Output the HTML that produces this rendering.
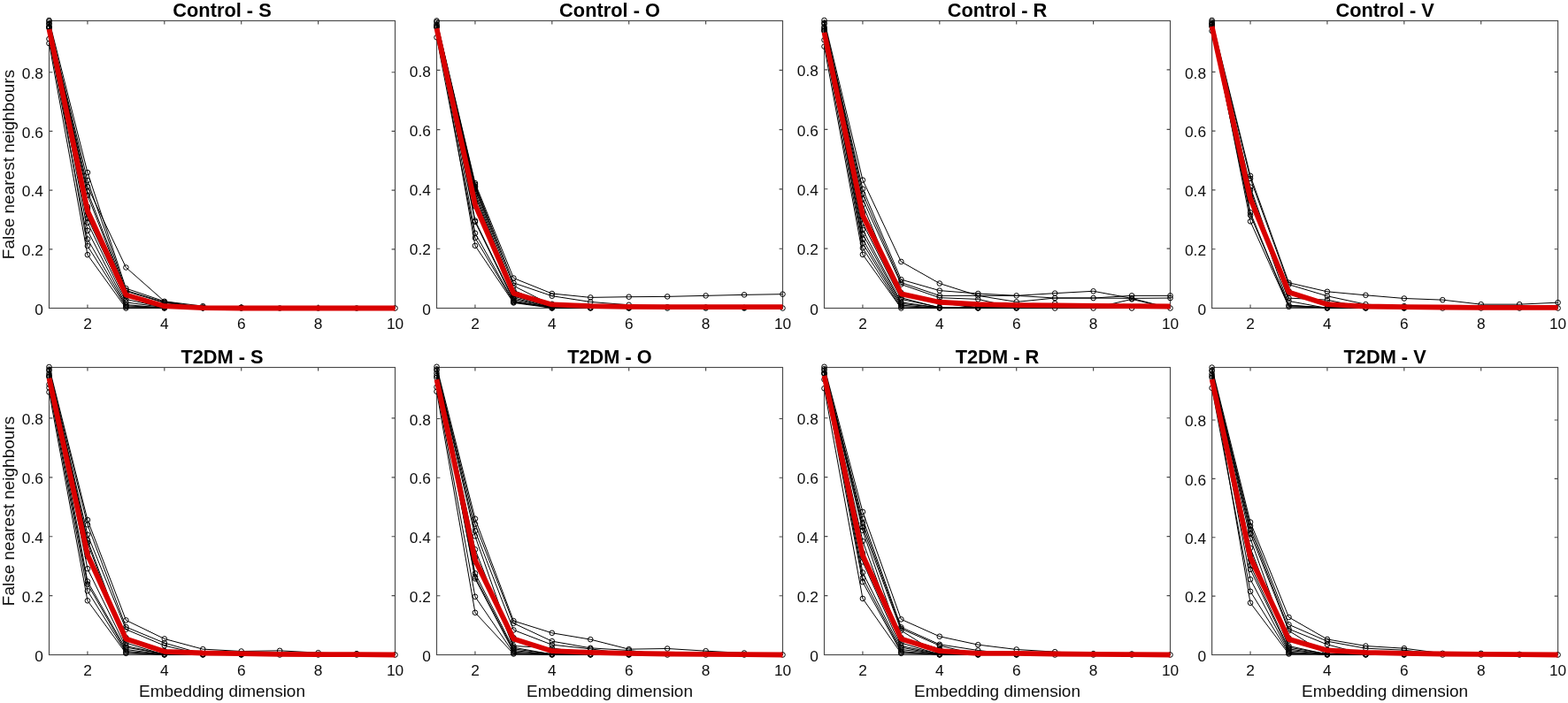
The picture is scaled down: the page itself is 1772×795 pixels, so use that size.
<!DOCTYPE html>
<html><head><meta charset="utf-8"><title>False nearest neighbours</title>
<style>
html,body{margin:0;padding:0;background:#fff;}
body{width:1772px;height:795px;overflow:hidden;}
svg{display:block;}
text{font-family:"Liberation Sans",Arial,Helvetica,sans-serif;fill:#0d0d0d;}
.t{font-size:17.3px;}
.l{font-size:19.0px;}
.h{font-size:21.8px;font-weight:bold;fill:#000;}
</style></head><body>
<svg width="1772" height="795" viewBox="0 0 1772 795">
<rect x="0" y="0" width="1772" height="795" fill="#fff"/>
<g><rect x="55.5" y="23.5" width="391" height="325" fill="none" stroke="#4a4a4a" stroke-width="1.15"/>
<path d="M98.94 348.5V344.6M98.94 23.5V27.4M185.83 348.5V344.6M185.83 23.5V27.4M272.72 348.5V344.6M272.72 23.5V27.4M359.61 348.5V344.6M359.61 23.5V27.4M55.5 281.8H59.4M446.5 281.8H442.6M55.5 215.1H59.4M446.5 215.1H442.6M55.5 148.4H59.4M446.5 148.4H442.6M55.5 81.7H59.4M446.5 81.7H442.6" fill="none" stroke="#4a4a4a" stroke-width="1.15"/>
<text class="t" x="98.94" y="371.8" text-anchor="middle">2</text>
<text class="t" x="185.83" y="371.8" text-anchor="middle">4</text>
<text class="t" x="272.72" y="371.8" text-anchor="middle">6</text>
<text class="t" x="359.61" y="371.8" text-anchor="middle">8</text>
<text class="t" x="446.5" y="371.8" text-anchor="middle">10</text>
<text class="t" x="48.9" y="355.7" text-anchor="end">0</text>
<text class="t" x="48.9" y="289" text-anchor="end">0.2</text>
<text class="t" x="48.9" y="222.3" text-anchor="end">0.4</text>
<text class="t" x="48.9" y="155.6" text-anchor="end">0.6</text>
<text class="t" x="48.9" y="88.9" text-anchor="end">0.8</text>
<text class="h" x="251" y="18.75" text-anchor="middle">Control - S</text>
<g fill="none" stroke="#000" stroke-width="1.0" stroke-linejoin="round"><polyline points="55.5,23 98.94,195.09 142.39,326.16 185.83,340.83 229.28,346.17 272.72,348.5 316.17,348.5 359.61,348.5 403.06,348.5 446.5,348.5"/><polyline points="55.5,26.67 98.94,204.09 142.39,328.49 185.83,341.83 229.28,347.57 272.72,348.03 316.17,348.5 359.61,348.5 403.06,348.5 446.5,348.5"/><polyline points="55.5,26.67 98.94,211.1 142.39,302.48 185.83,340.83 229.28,348.27 272.72,347.57 316.17,348.5 359.61,348.5 403.06,348.5 446.5,348.5"/><polyline points="55.5,26.67 98.94,216.43 142.39,329.16 185.83,342.5 229.28,347.8 272.72,348.27 316.17,348.5 359.61,348.5 403.06,348.5 446.5,348.5"/><polyline points="55.5,26.67 98.94,220.77 142.39,331.82 185.83,345.17 229.28,348.5 272.72,347.8 316.17,348.5 359.61,348.5 403.06,348.5 446.5,348.5"/><polyline points="55.5,24.34 98.94,233.78 142.39,335.16 185.83,346.83 229.28,348.03 272.72,348.5 316.17,348.5 359.61,348.5 403.06,348.5 446.5,348.5"/><polyline points="55.5,30.01 98.94,246.45 142.39,338.5 185.83,347.83 229.28,347.57 272.72,348.03 316.17,348.5 359.61,348.5 403.06,348.5 446.5,348.5"/><polyline points="55.5,31.68 98.94,251.79 142.39,341.83 185.83,347.8 229.28,348.27 272.72,347.57 316.17,348.5 359.61,348.5 403.06,348.5 446.5,348.5"/><polyline points="55.5,31.68 98.94,260.79 142.39,344.5 185.83,348.5 229.28,347.8 272.72,348.27 316.17,348.5 359.61,348.5 403.06,348.5 446.5,348.5"/><polyline points="55.5,44.01 98.94,270.46 142.39,345.83 185.83,348.03 229.28,348.5 272.72,347.8 316.17,348.5 359.61,348.5 403.06,348.5 446.5,348.5"/><polyline points="55.5,31.68 98.94,278.13 142.39,347.17 185.83,347.57 229.28,348.03 272.72,348.5 316.17,348.5 359.61,348.5 403.06,348.5 446.5,348.5"/><polyline points="55.5,49.02 98.94,288.14 142.39,348.5 185.83,348.27 229.28,347.57 272.72,348.03 316.17,348.5 359.61,348.5 403.06,348.5 446.5,348.5"/><polyline points="55.5,27.01 98.94,235.78 142.39,332.16 185.83,345.5 229.28,348.27 272.72,347.57 316.17,348.5 359.61,348.5 403.06,348.5 446.5,348.5"/><polyline points="55.5,30.34 98.94,240.45 142.39,334.83 185.83,346.17 229.28,347.8 272.72,348.27 316.17,348.5 359.61,348.5 403.06,348.5 446.5,348.5"/><polyline points="55.5,31.01 98.94,237.78 142.39,333.49 185.83,346.83 229.28,348.5 272.72,347.8 316.17,348.5 359.61,348.5 403.06,348.5 446.5,348.5"/><circle cx="55.5" cy="23" r="2.8"/><circle cx="98.94" cy="195.09" r="2.8"/><circle cx="142.39" cy="326.16" r="2.8"/><circle cx="185.83" cy="340.83" r="2.8"/><circle cx="229.28" cy="346.17" r="2.8"/><circle cx="272.72" cy="348.5" r="2.8"/><circle cx="316.17" cy="348.5" r="2.8"/><circle cx="359.61" cy="348.5" r="2.8"/><circle cx="403.06" cy="348.5" r="2.8"/><circle cx="446.5" cy="348.5" r="2.8"/><circle cx="55.5" cy="26.67" r="2.8"/><circle cx="98.94" cy="204.09" r="2.8"/><circle cx="142.39" cy="328.49" r="2.8"/><circle cx="185.83" cy="341.83" r="2.8"/><circle cx="229.28" cy="347.57" r="2.8"/><circle cx="272.72" cy="348.03" r="2.8"/><circle cx="98.94" cy="211.1" r="2.8"/><circle cx="142.39" cy="302.48" r="2.8"/><circle cx="229.28" cy="348.27" r="2.8"/><circle cx="272.72" cy="347.57" r="2.8"/><circle cx="98.94" cy="216.43" r="2.8"/><circle cx="142.39" cy="329.16" r="2.8"/><circle cx="185.83" cy="342.5" r="2.8"/><circle cx="229.28" cy="347.8" r="2.8"/><circle cx="272.72" cy="348.27" r="2.8"/><circle cx="98.94" cy="220.77" r="2.8"/><circle cx="142.39" cy="331.82" r="2.8"/><circle cx="185.83" cy="345.17" r="2.8"/><circle cx="229.28" cy="348.5" r="2.8"/><circle cx="272.72" cy="347.8" r="2.8"/><circle cx="55.5" cy="24.34" r="2.8"/><circle cx="98.94" cy="233.78" r="2.8"/><circle cx="142.39" cy="335.16" r="2.8"/><circle cx="185.83" cy="346.83" r="2.8"/><circle cx="229.28" cy="348.03" r="2.8"/><circle cx="55.5" cy="30.01" r="2.8"/><circle cx="98.94" cy="246.45" r="2.8"/><circle cx="142.39" cy="338.5" r="2.8"/><circle cx="185.83" cy="347.83" r="2.8"/><circle cx="55.5" cy="31.68" r="2.8"/><circle cx="98.94" cy="251.79" r="2.8"/><circle cx="142.39" cy="341.83" r="2.8"/><circle cx="98.94" cy="260.79" r="2.8"/><circle cx="142.39" cy="344.5" r="2.8"/><circle cx="185.83" cy="348.5" r="2.8"/><circle cx="55.5" cy="44.01" r="2.8"/><circle cx="98.94" cy="270.46" r="2.8"/><circle cx="142.39" cy="345.83" r="2.8"/><circle cx="185.83" cy="348.03" r="2.8"/><circle cx="98.94" cy="278.13" r="2.8"/><circle cx="142.39" cy="347.17" r="2.8"/><circle cx="185.83" cy="347.57" r="2.8"/><circle cx="55.5" cy="49.02" r="2.8"/><circle cx="98.94" cy="288.14" r="2.8"/><circle cx="142.39" cy="348.5" r="2.8"/><circle cx="185.83" cy="348.27" r="2.8"/><circle cx="55.5" cy="27.01" r="2.8"/><circle cx="98.94" cy="235.78" r="2.8"/><circle cx="142.39" cy="332.16" r="2.8"/><circle cx="185.83" cy="345.5" r="2.8"/><circle cx="55.5" cy="30.34" r="2.8"/><circle cx="98.94" cy="240.45" r="2.8"/><circle cx="142.39" cy="334.83" r="2.8"/><circle cx="185.83" cy="346.17" r="2.8"/><circle cx="55.5" cy="31.01" r="2.8"/><circle cx="98.94" cy="237.78" r="2.8"/><circle cx="142.39" cy="333.49" r="2.8"/></g>
<polyline points="55.5,33.01 98.94,238.44 142.39,333.49 185.83,346.17 229.28,348.17 272.72,348.5 316.17,348.5 359.61,348.5 403.06,348.5 446.5,348.5" fill="none" stroke="#d90000" stroke-width="5.8" stroke-linejoin="round" stroke-linecap="butt"/>
<text class="l" x="0" y="0" text-anchor="middle" transform="translate(15.9 186) rotate(-90)">False nearest neighbours</text></g>
<g><rect x="493.5" y="23.5" width="391" height="325" fill="none" stroke="#4a4a4a" stroke-width="1.15"/>
<path d="M536.94 348.5V344.6M536.94 23.5V27.4M623.83 348.5V344.6M623.83 23.5V27.4M710.72 348.5V344.6M710.72 23.5V27.4M797.61 348.5V344.6M797.61 23.5V27.4M493.5 281.2H497.4M884.5 281.2H880.6M493.5 213.9H497.4M884.5 213.9H880.6M493.5 146.6H497.4M884.5 146.6H880.6M493.5 79.3H497.4M884.5 79.3H880.6" fill="none" stroke="#4a4a4a" stroke-width="1.15"/>
<text class="t" x="536.94" y="371.8" text-anchor="middle">2</text>
<text class="t" x="623.83" y="371.8" text-anchor="middle">4</text>
<text class="t" x="710.72" y="371.8" text-anchor="middle">6</text>
<text class="t" x="797.61" y="371.8" text-anchor="middle">8</text>
<text class="t" x="884.5" y="371.8" text-anchor="middle">10</text>
<text class="t" x="486.9" y="355.7" text-anchor="end">0</text>
<text class="t" x="486.9" y="288.4" text-anchor="end">0.2</text>
<text class="t" x="486.9" y="221.1" text-anchor="end">0.4</text>
<text class="t" x="486.9" y="153.8" text-anchor="end">0.6</text>
<text class="t" x="486.9" y="86.5" text-anchor="end">0.8</text>
<text class="h" x="689" y="18.75" text-anchor="middle">Control - O</text>
<g fill="none" stroke="#000" stroke-width="1.0" stroke-linejoin="round"><polyline points="493.5,23.44 536.94,207.17 580.39,314.51 623.83,332.01 667.28,336.39 710.72,335.71 754.17,335.38 797.61,334.37 841.06,333.36 884.5,332.68"/><polyline points="493.5,24.79 536.94,208.85 580.39,319.9 623.83,334.7 667.28,341.43 710.72,344.8 754.17,347.15 797.61,347.49 841.06,347.83 884.5,348.5"/><polyline points="493.5,24.79 536.94,210.53 580.39,323.26 623.83,345.13 667.28,348.26 710.72,347.56 754.17,348.5 797.61,348.5 841.06,348.5 884.5,348.5"/><polyline points="493.5,24.79 536.94,211.54 580.39,328.31 623.83,346.82 667.28,347.79 710.72,348.26 754.17,348.5 797.61,348.5 841.06,348.5 884.5,348.5"/><polyline points="493.5,24.79 536.94,213.9 580.39,333.36 623.83,347.49 667.28,348.5 710.72,347.79 754.17,348.5 797.61,348.5 841.06,348.5 884.5,348.5"/><polyline points="493.5,24.79 536.94,217.6 580.39,335.04 623.83,347.56 667.28,348.03 710.72,348.5 754.17,348.5 797.61,348.5 841.06,348.5 884.5,348.5"/><polyline points="493.5,24.79 536.94,220.63 580.39,336.72 623.83,348.26 667.28,347.56 710.72,348.03 754.17,348.5 797.61,348.5 841.06,348.5 884.5,348.5"/><polyline points="493.5,28.82 536.94,249.57 580.39,338.4 623.83,347.79 667.28,348.26 710.72,347.56 754.17,348.5 797.61,348.5 841.06,348.5 884.5,348.5"/><polyline points="493.5,30.51 536.94,250.92 580.39,340.09 623.83,348.5 667.28,347.79 710.72,348.26 754.17,348.5 797.61,348.5 841.06,348.5 884.5,348.5"/><polyline points="493.5,28.82 536.94,263.7 580.39,341.1 623.83,348.03 667.28,348.5 710.72,347.79 754.17,348.5 797.61,348.5 841.06,348.5 884.5,348.5"/><polyline points="493.5,42.28 536.94,269.09 580.39,341.77 623.83,347.56 667.28,348.03 710.72,348.5 754.17,348.5 797.61,348.5 841.06,348.5 884.5,348.5"/><polyline points="493.5,30.51 536.94,277.84 580.39,342.44 623.83,348.26 667.28,347.56 710.72,348.03 754.17,348.5 797.61,348.5 841.06,348.5 884.5,348.5"/><polyline points="493.5,27.48 536.94,228.71 580.39,330.33 623.83,343.79 667.28,348.26 710.72,347.56 754.17,348.5 797.61,348.5 841.06,348.5 884.5,348.5"/><polyline points="493.5,30.84 536.94,233.42 580.39,333.02 623.83,344.46 667.28,347.79 710.72,348.26 754.17,348.5 797.61,348.5 841.06,348.5 884.5,348.5"/><polyline points="493.5,30.17 536.94,230.73 580.39,331.68 623.83,345.13 667.28,348.5 710.72,347.79 754.17,348.5 797.61,348.5 841.06,348.5 884.5,348.5"/><circle cx="493.5" cy="23.44" r="2.8"/><circle cx="536.94" cy="207.17" r="2.8"/><circle cx="580.39" cy="314.51" r="2.8"/><circle cx="623.83" cy="332.01" r="2.8"/><circle cx="667.28" cy="336.39" r="2.8"/><circle cx="710.72" cy="335.71" r="2.8"/><circle cx="754.17" cy="335.38" r="2.8"/><circle cx="797.61" cy="334.37" r="2.8"/><circle cx="841.06" cy="333.36" r="2.8"/><circle cx="884.5" cy="332.68" r="2.8"/><circle cx="493.5" cy="24.79" r="2.8"/><circle cx="536.94" cy="208.85" r="2.8"/><circle cx="580.39" cy="319.9" r="2.8"/><circle cx="623.83" cy="334.7" r="2.8"/><circle cx="667.28" cy="341.43" r="2.8"/><circle cx="710.72" cy="344.8" r="2.8"/><circle cx="754.17" cy="347.15" r="2.8"/><circle cx="797.61" cy="347.49" r="2.8"/><circle cx="841.06" cy="347.83" r="2.8"/><circle cx="884.5" cy="348.5" r="2.8"/><circle cx="536.94" cy="210.53" r="2.8"/><circle cx="580.39" cy="323.26" r="2.8"/><circle cx="623.83" cy="345.13" r="2.8"/><circle cx="667.28" cy="348.26" r="2.8"/><circle cx="710.72" cy="347.56" r="2.8"/><circle cx="754.17" cy="348.5" r="2.8"/><circle cx="797.61" cy="348.5" r="2.8"/><circle cx="841.06" cy="348.5" r="2.8"/><circle cx="536.94" cy="211.54" r="2.8"/><circle cx="580.39" cy="328.31" r="2.8"/><circle cx="623.83" cy="346.82" r="2.8"/><circle cx="667.28" cy="347.79" r="2.8"/><circle cx="710.72" cy="348.26" r="2.8"/><circle cx="536.94" cy="213.9" r="2.8"/><circle cx="580.39" cy="333.36" r="2.8"/><circle cx="623.83" cy="347.49" r="2.8"/><circle cx="667.28" cy="348.5" r="2.8"/><circle cx="710.72" cy="347.79" r="2.8"/><circle cx="536.94" cy="217.6" r="2.8"/><circle cx="580.39" cy="335.04" r="2.8"/><circle cx="623.83" cy="347.56" r="2.8"/><circle cx="667.28" cy="348.03" r="2.8"/><circle cx="710.72" cy="348.5" r="2.8"/><circle cx="536.94" cy="220.63" r="2.8"/><circle cx="580.39" cy="336.72" r="2.8"/><circle cx="623.83" cy="348.26" r="2.8"/><circle cx="667.28" cy="347.56" r="2.8"/><circle cx="710.72" cy="348.03" r="2.8"/><circle cx="493.5" cy="28.82" r="2.8"/><circle cx="536.94" cy="249.57" r="2.8"/><circle cx="580.39" cy="338.4" r="2.8"/><circle cx="623.83" cy="347.79" r="2.8"/><circle cx="493.5" cy="30.51" r="2.8"/><circle cx="536.94" cy="250.92" r="2.8"/><circle cx="580.39" cy="340.09" r="2.8"/><circle cx="623.83" cy="348.5" r="2.8"/><circle cx="536.94" cy="263.7" r="2.8"/><circle cx="580.39" cy="341.1" r="2.8"/><circle cx="623.83" cy="348.03" r="2.8"/><circle cx="493.5" cy="42.28" r="2.8"/><circle cx="536.94" cy="269.09" r="2.8"/><circle cx="580.39" cy="341.77" r="2.8"/><circle cx="536.94" cy="277.84" r="2.8"/><circle cx="580.39" cy="342.44" r="2.8"/><circle cx="493.5" cy="27.48" r="2.8"/><circle cx="536.94" cy="228.71" r="2.8"/><circle cx="580.39" cy="330.33" r="2.8"/><circle cx="623.83" cy="343.79" r="2.8"/><circle cx="493.5" cy="30.84" r="2.8"/><circle cx="536.94" cy="233.42" r="2.8"/><circle cx="580.39" cy="333.02" r="2.8"/><circle cx="623.83" cy="344.46" r="2.8"/><circle cx="493.5" cy="30.17" r="2.8"/><circle cx="536.94" cy="230.73" r="2.8"/><circle cx="580.39" cy="331.68" r="2.8"/></g>
<polyline points="493.5,32.19 536.94,231.4 580.39,331.68 623.83,344.46 667.28,346.14 710.72,346.82 754.17,347.15 797.61,347.15 841.06,347.15 884.5,347.15" fill="none" stroke="#d90000" stroke-width="5.8" stroke-linejoin="round" stroke-linecap="butt"/></g>
<g><rect x="931.5" y="23.5" width="391" height="325" fill="none" stroke="#4a4a4a" stroke-width="1.15"/>
<path d="M974.94 348.5V344.6M974.94 23.5V27.4M1061.83 348.5V344.6M1061.83 23.5V27.4M1148.72 348.5V344.6M1148.72 23.5V27.4M1235.61 348.5V344.6M1235.61 23.5V27.4M931.5 281.1H935.4M1322.5 281.1H1318.6M931.5 213.7H935.4M1322.5 213.7H1318.6M931.5 146.3H935.4M1322.5 146.3H1318.6M931.5 78.9H935.4M1322.5 78.9H1318.6" fill="none" stroke="#4a4a4a" stroke-width="1.15"/>
<text class="t" x="974.94" y="371.8" text-anchor="middle">2</text>
<text class="t" x="1061.83" y="371.8" text-anchor="middle">4</text>
<text class="t" x="1148.72" y="371.8" text-anchor="middle">6</text>
<text class="t" x="1235.61" y="371.8" text-anchor="middle">8</text>
<text class="t" x="1322.5" y="371.8" text-anchor="middle">10</text>
<text class="t" x="924.9" y="355.7" text-anchor="end">0</text>
<text class="t" x="924.9" y="288.3" text-anchor="end">0.2</text>
<text class="t" x="924.9" y="220.9" text-anchor="end">0.4</text>
<text class="t" x="924.9" y="153.5" text-anchor="end">0.6</text>
<text class="t" x="924.9" y="86.1" text-anchor="end">0.8</text>
<text class="h" x="1127" y="18.75" text-anchor="middle">Control - R</text>
<g fill="none" stroke="#000" stroke-width="1.0" stroke-linejoin="round"><polyline points="931.5,22.96 974.94,203.59 1018.39,295.93 1061.83,320.53 1105.28,334.35 1148.72,334.35 1192.17,337.04 1235.61,337.04 1279.06,334.35 1322.5,334.35"/><polyline points="931.5,25.65 974.94,213.7 1018.39,316.15 1061.83,328.62 1105.28,331.99 1148.72,334.35 1192.17,331.65 1235.61,329.29 1279.06,337.38 1322.5,348.5"/><polyline points="931.5,25.65 974.94,219.09 1018.39,319.52 1061.83,334.35 1105.28,334.35 1148.72,341.42 1192.17,337.04 1235.61,337.04 1279.06,337.38 1322.5,337.04"/><polyline points="931.5,25.65 974.94,225.16 1018.39,321.54 1061.83,336.7 1105.28,338.39 1148.72,348.26 1192.17,343.11 1235.61,348.5 1279.06,338.39 1322.5,348.5"/><polyline points="931.5,25.65 974.94,231.22 1018.39,336.7 1061.83,348.03 1105.28,348.5 1148.72,347.79 1192.17,348.5 1235.61,348.5 1279.06,348.5 1322.5,348.5"/><polyline points="931.5,31.72 974.94,252.46 1018.39,338.39 1061.83,347.56 1105.28,348.03 1148.72,348.5 1192.17,348.5 1235.61,348.5 1279.06,348.5 1322.5,348.5"/><polyline points="931.5,33.4 974.94,259.87 1018.39,341.76 1061.83,348.26 1105.28,347.56 1148.72,348.03 1192.17,348.5 1235.61,348.5 1279.06,348.5 1322.5,348.5"/><polyline points="931.5,31.72 974.94,264.59 1018.39,343.44 1061.83,347.79 1105.28,348.26 1148.72,347.56 1192.17,348.5 1235.61,348.5 1279.06,348.5 1322.5,348.5"/><polyline points="931.5,33.4 974.94,270.65 1018.39,345.13 1061.83,348.5 1105.28,347.79 1148.72,348.26 1192.17,348.5 1235.61,348.5 1279.06,348.5 1322.5,348.5"/><polyline points="931.5,35.09 974.94,275.03 1018.39,346.81 1061.83,348.03 1105.28,348.5 1148.72,347.79 1192.17,348.5 1235.61,348.5 1279.06,348.5 1322.5,348.5"/><polyline points="931.5,45.2 974.94,280.43 1018.39,348.5 1061.83,347.56 1105.28,348.03 1148.72,348.5 1192.17,348.5 1235.61,348.5 1279.06,348.5 1322.5,348.5"/><polyline points="931.5,52.61 974.94,287.84 1018.39,348.5 1061.83,348.26 1105.28,347.56 1148.72,348.03 1192.17,348.5 1235.61,348.5 1279.06,348.5 1322.5,348.5"/><polyline points="931.5,27 974.94,240.66 1018.39,330.98 1061.83,341.09 1105.28,348.26 1148.72,347.56 1192.17,348.5 1235.61,348.5 1279.06,348.5 1322.5,348.5"/><polyline points="931.5,30.37 974.94,245.38 1018.39,333.67 1061.83,341.76 1105.28,347.79 1148.72,348.26 1192.17,348.5 1235.61,348.5 1279.06,348.5 1322.5,348.5"/><polyline points="931.5,34.75 974.94,242.68 1018.39,332.32 1061.83,342.43 1105.28,348.5 1148.72,347.79 1192.17,348.5 1235.61,348.5 1279.06,348.5 1322.5,348.5"/><circle cx="931.5" cy="22.96" r="2.8"/><circle cx="974.94" cy="203.59" r="2.8"/><circle cx="1018.39" cy="295.93" r="2.8"/><circle cx="1061.83" cy="320.53" r="2.8"/><circle cx="1105.28" cy="334.35" r="2.8"/><circle cx="1148.72" cy="334.35" r="2.8"/><circle cx="1192.17" cy="337.04" r="2.8"/><circle cx="1235.61" cy="337.04" r="2.8"/><circle cx="1279.06" cy="334.35" r="2.8"/><circle cx="1322.5" cy="334.35" r="2.8"/><circle cx="931.5" cy="25.65" r="2.8"/><circle cx="974.94" cy="213.7" r="2.8"/><circle cx="1018.39" cy="316.15" r="2.8"/><circle cx="1061.83" cy="328.62" r="2.8"/><circle cx="1105.28" cy="331.99" r="2.8"/><circle cx="1192.17" cy="331.65" r="2.8"/><circle cx="1235.61" cy="329.29" r="2.8"/><circle cx="1279.06" cy="337.38" r="2.8"/><circle cx="1322.5" cy="348.5" r="2.8"/><circle cx="974.94" cy="219.09" r="2.8"/><circle cx="1018.39" cy="319.52" r="2.8"/><circle cx="1061.83" cy="334.35" r="2.8"/><circle cx="1148.72" cy="341.42" r="2.8"/><circle cx="1322.5" cy="337.04" r="2.8"/><circle cx="974.94" cy="225.16" r="2.8"/><circle cx="1018.39" cy="321.54" r="2.8"/><circle cx="1061.83" cy="336.7" r="2.8"/><circle cx="1105.28" cy="338.39" r="2.8"/><circle cx="1148.72" cy="348.26" r="2.8"/><circle cx="1192.17" cy="343.11" r="2.8"/><circle cx="1235.61" cy="348.5" r="2.8"/><circle cx="1279.06" cy="338.39" r="2.8"/><circle cx="974.94" cy="231.22" r="2.8"/><circle cx="1018.39" cy="336.7" r="2.8"/><circle cx="1061.83" cy="348.03" r="2.8"/><circle cx="1105.28" cy="348.5" r="2.8"/><circle cx="1148.72" cy="347.79" r="2.8"/><circle cx="1192.17" cy="348.5" r="2.8"/><circle cx="1279.06" cy="348.5" r="2.8"/><circle cx="931.5" cy="31.72" r="2.8"/><circle cx="974.94" cy="252.46" r="2.8"/><circle cx="1018.39" cy="338.39" r="2.8"/><circle cx="1061.83" cy="347.56" r="2.8"/><circle cx="1105.28" cy="348.03" r="2.8"/><circle cx="1148.72" cy="348.5" r="2.8"/><circle cx="931.5" cy="33.4" r="2.8"/><circle cx="974.94" cy="259.87" r="2.8"/><circle cx="1018.39" cy="341.76" r="2.8"/><circle cx="1061.83" cy="348.26" r="2.8"/><circle cx="1105.28" cy="347.56" r="2.8"/><circle cx="1148.72" cy="348.03" r="2.8"/><circle cx="974.94" cy="264.59" r="2.8"/><circle cx="1018.39" cy="343.44" r="2.8"/><circle cx="1061.83" cy="347.79" r="2.8"/><circle cx="1105.28" cy="348.26" r="2.8"/><circle cx="1148.72" cy="347.56" r="2.8"/><circle cx="974.94" cy="270.65" r="2.8"/><circle cx="1018.39" cy="345.13" r="2.8"/><circle cx="1061.83" cy="348.5" r="2.8"/><circle cx="1105.28" cy="347.79" r="2.8"/><circle cx="931.5" cy="35.09" r="2.8"/><circle cx="974.94" cy="275.03" r="2.8"/><circle cx="1018.39" cy="346.81" r="2.8"/><circle cx="931.5" cy="45.2" r="2.8"/><circle cx="974.94" cy="280.43" r="2.8"/><circle cx="1018.39" cy="348.5" r="2.8"/><circle cx="931.5" cy="52.61" r="2.8"/><circle cx="974.94" cy="287.84" r="2.8"/><circle cx="931.5" cy="27" r="2.8"/><circle cx="974.94" cy="240.66" r="2.8"/><circle cx="1018.39" cy="330.98" r="2.8"/><circle cx="1061.83" cy="341.09" r="2.8"/><circle cx="931.5" cy="30.37" r="2.8"/><circle cx="974.94" cy="245.38" r="2.8"/><circle cx="1018.39" cy="333.67" r="2.8"/><circle cx="1061.83" cy="341.76" r="2.8"/><circle cx="931.5" cy="34.75" r="2.8"/><circle cx="974.94" cy="242.68" r="2.8"/><circle cx="1018.39" cy="332.32" r="2.8"/><circle cx="1061.83" cy="342.43" r="2.8"/></g>
<polyline points="931.5,36.77 974.94,243.36 1018.39,332.32 1061.83,341.76 1105.28,344.12 1148.72,345.13 1192.17,345.47 1235.61,345.8 1279.06,346.14 1322.5,346.48" fill="none" stroke="#d90000" stroke-width="5.8" stroke-linejoin="round" stroke-linecap="butt"/></g>
<g><rect x="1369.6" y="23.5" width="391" height="325" fill="none" stroke="#4a4a4a" stroke-width="1.15"/>
<path d="M1413.04 348.5V344.6M1413.04 23.5V27.4M1499.93 348.5V344.6M1499.93 23.5V27.4M1586.82 348.5V344.6M1586.82 23.5V27.4M1673.71 348.5V344.6M1673.71 23.5V27.4M1369.6 281.72H1373.5M1760.6 281.72H1756.7M1369.6 214.94H1373.5M1760.6 214.94H1756.7M1369.6 148.16H1373.5M1760.6 148.16H1756.7M1369.6 81.38H1373.5M1760.6 81.38H1756.7" fill="none" stroke="#4a4a4a" stroke-width="1.15"/>
<text class="t" x="1413.04" y="371.8" text-anchor="middle">2</text>
<text class="t" x="1499.93" y="371.8" text-anchor="middle">4</text>
<text class="t" x="1586.82" y="371.8" text-anchor="middle">6</text>
<text class="t" x="1673.71" y="371.8" text-anchor="middle">8</text>
<text class="t" x="1760.6" y="371.8" text-anchor="middle">10</text>
<text class="t" x="1363" y="355.7" text-anchor="end">0</text>
<text class="t" x="1363" y="288.92" text-anchor="end">0.2</text>
<text class="t" x="1363" y="222.14" text-anchor="end">0.4</text>
<text class="t" x="1363" y="155.36" text-anchor="end">0.6</text>
<text class="t" x="1363" y="88.58" text-anchor="end">0.8</text>
<text class="h" x="1565.1" y="18.75" text-anchor="middle">Control - V</text>
<g fill="none" stroke="#000" stroke-width="1.0" stroke-linejoin="round"><polyline points="1369.6,22.95 1413.04,198.91 1456.49,319.78 1499.93,329.8 1543.38,333.81 1586.82,337.48 1630.27,339.15 1673.71,344.16 1717.16,344.16 1760.6,342.16"/><polyline points="1369.6,24.62 1413.04,201.92 1456.49,321.79 1499.93,334.81 1543.38,344.16 1586.82,346.16 1630.27,348.5 1673.71,348.5 1717.16,348.5 1760.6,348.5"/><polyline points="1369.6,24.62 1413.04,211.6 1456.49,337.15 1499.93,339.15 1543.38,348.27 1586.82,347.57 1630.27,348.5 1673.71,348.5 1717.16,348.5 1760.6,348.5"/><polyline points="1369.6,26.29 1413.04,214.94 1456.49,340.49 1499.93,348.5 1543.38,347.8 1586.82,348.27 1630.27,348.5 1673.71,348.5 1717.16,348.5 1760.6,348.5"/><polyline points="1369.6,27.96 1413.04,221.62 1456.49,345.16 1499.93,348.03 1543.38,348.5 1586.82,347.8 1630.27,348.5 1673.71,348.5 1717.16,348.5 1760.6,348.5"/><polyline points="1369.6,29.63 1413.04,240.32 1456.49,346.83 1499.93,347.57 1543.38,348.03 1586.82,348.5 1630.27,348.5 1673.71,348.5 1717.16,348.5 1760.6,348.5"/><polyline points="1369.6,34.97 1413.04,243.32 1456.49,345.16 1499.93,348.27 1543.38,347.57 1586.82,348.03 1630.27,348.5 1673.71,348.5 1717.16,348.5 1760.6,348.5"/><polyline points="1369.6,29.63 1413.04,250.33 1456.49,346.83 1499.93,347.8 1543.38,348.27 1586.82,347.57 1630.27,348.5 1673.71,348.5 1717.16,348.5 1760.6,348.5"/><polyline points="1369.6,26.95 1413.04,222.29 1456.49,329.13 1499.93,343.49 1543.38,347.8 1586.82,348.27 1630.27,348.5 1673.71,348.5 1717.16,348.5 1760.6,348.5"/><polyline points="1369.6,30.29 1413.04,226.96 1456.49,331.81 1499.93,344.16 1543.38,348.5 1586.82,347.8 1630.27,348.5 1673.71,348.5 1717.16,348.5 1760.6,348.5"/><polyline points="1369.6,27.96 1413.04,224.29 1456.49,330.47 1499.93,344.83 1543.38,348.03 1586.82,348.5 1630.27,348.5 1673.71,348.5 1717.16,348.5 1760.6,348.5"/><circle cx="1369.6" cy="22.95" r="2.8"/><circle cx="1413.04" cy="198.91" r="2.8"/><circle cx="1456.49" cy="319.78" r="2.8"/><circle cx="1499.93" cy="329.8" r="2.8"/><circle cx="1543.38" cy="333.81" r="2.8"/><circle cx="1586.82" cy="337.48" r="2.8"/><circle cx="1630.27" cy="339.15" r="2.8"/><circle cx="1673.71" cy="344.16" r="2.8"/><circle cx="1717.16" cy="344.16" r="2.8"/><circle cx="1760.6" cy="342.16" r="2.8"/><circle cx="1369.6" cy="24.62" r="2.8"/><circle cx="1413.04" cy="201.92" r="2.8"/><circle cx="1456.49" cy="321.79" r="2.8"/><circle cx="1499.93" cy="334.81" r="2.8"/><circle cx="1543.38" cy="344.16" r="2.8"/><circle cx="1586.82" cy="346.16" r="2.8"/><circle cx="1630.27" cy="348.5" r="2.8"/><circle cx="1673.71" cy="348.5" r="2.8"/><circle cx="1717.16" cy="348.5" r="2.8"/><circle cx="1760.6" cy="348.5" r="2.8"/><circle cx="1413.04" cy="211.6" r="2.8"/><circle cx="1456.49" cy="337.15" r="2.8"/><circle cx="1499.93" cy="339.15" r="2.8"/><circle cx="1543.38" cy="348.27" r="2.8"/><circle cx="1586.82" cy="347.57" r="2.8"/><circle cx="1369.6" cy="26.29" r="2.8"/><circle cx="1413.04" cy="214.94" r="2.8"/><circle cx="1456.49" cy="340.49" r="2.8"/><circle cx="1499.93" cy="348.5" r="2.8"/><circle cx="1543.38" cy="347.8" r="2.8"/><circle cx="1586.82" cy="348.27" r="2.8"/><circle cx="1369.6" cy="27.96" r="2.8"/><circle cx="1413.04" cy="221.62" r="2.8"/><circle cx="1456.49" cy="345.16" r="2.8"/><circle cx="1499.93" cy="348.03" r="2.8"/><circle cx="1543.38" cy="348.5" r="2.8"/><circle cx="1586.82" cy="347.8" r="2.8"/><circle cx="1369.6" cy="29.63" r="2.8"/><circle cx="1413.04" cy="240.32" r="2.8"/><circle cx="1456.49" cy="346.83" r="2.8"/><circle cx="1499.93" cy="347.57" r="2.8"/><circle cx="1543.38" cy="348.03" r="2.8"/><circle cx="1586.82" cy="348.5" r="2.8"/><circle cx="1369.6" cy="34.97" r="2.8"/><circle cx="1413.04" cy="243.32" r="2.8"/><circle cx="1499.93" cy="348.27" r="2.8"/><circle cx="1543.38" cy="347.57" r="2.8"/><circle cx="1586.82" cy="348.03" r="2.8"/><circle cx="1413.04" cy="250.33" r="2.8"/><circle cx="1499.93" cy="347.8" r="2.8"/><circle cx="1369.6" cy="26.95" r="2.8"/><circle cx="1413.04" cy="222.29" r="2.8"/><circle cx="1456.49" cy="329.13" r="2.8"/><circle cx="1499.93" cy="343.49" r="2.8"/><circle cx="1369.6" cy="30.29" r="2.8"/><circle cx="1413.04" cy="226.96" r="2.8"/><circle cx="1456.49" cy="331.81" r="2.8"/><circle cx="1499.93" cy="344.16" r="2.8"/><circle cx="1413.04" cy="224.29" r="2.8"/><circle cx="1456.49" cy="330.47" r="2.8"/><circle cx="1499.93" cy="344.83" r="2.8"/></g>
<polyline points="1369.6,29.96 1413.04,224.96 1456.49,330.47 1499.93,344.16 1543.38,346.5 1586.82,347.16 1630.27,347.5 1673.71,347.83 1717.16,347.83 1760.6,347.83" fill="none" stroke="#d90000" stroke-width="5.8" stroke-linejoin="round" stroke-linecap="butt"/></g>
<g><rect x="55.5" y="415.5" width="391" height="325" fill="none" stroke="#4a4a4a" stroke-width="1.15"/>
<path d="M98.94 740.5V736.6M98.94 415.5V419.4M185.83 740.5V736.6M185.83 415.5V419.4M272.72 740.5V736.6M272.72 415.5V419.4M359.61 740.5V736.6M359.61 415.5V419.4M55.5 673.6H59.4M446.5 673.6H442.6M55.5 606.7H59.4M446.5 606.7H442.6M55.5 539.8H59.4M446.5 539.8H442.6M55.5 472.9H59.4M446.5 472.9H442.6" fill="none" stroke="#4a4a4a" stroke-width="1.15"/>
<text class="t" x="98.94" y="763.8" text-anchor="middle">2</text>
<text class="t" x="185.83" y="763.8" text-anchor="middle">4</text>
<text class="t" x="272.72" y="763.8" text-anchor="middle">6</text>
<text class="t" x="359.61" y="763.8" text-anchor="middle">8</text>
<text class="t" x="446.5" y="763.8" text-anchor="middle">10</text>
<text class="t" x="48.9" y="747.7" text-anchor="end">0</text>
<text class="t" x="48.9" y="680.8" text-anchor="end">0.2</text>
<text class="t" x="48.9" y="613.9" text-anchor="end">0.4</text>
<text class="t" x="48.9" y="547" text-anchor="end">0.6</text>
<text class="t" x="48.9" y="480.1" text-anchor="end">0.8</text>
<text class="h" x="251" y="410.75" text-anchor="middle">T2DM - S</text>
<g fill="none" stroke="#000" stroke-width="1.0" stroke-linejoin="round"><polyline points="55.5,415.03 98.94,587.97 142.39,701.36 185.83,722.44 229.28,734.14 272.72,736.49 316.17,735.82 359.61,738.16 403.06,739.16 446.5,740.5"/><polyline points="55.5,417.71 98.94,593.32 142.39,709.06 185.83,727.12 229.28,739.56 272.72,740.03 316.17,740.5 359.61,740.5 403.06,740.5 446.5,740.5"/><polyline points="55.5,417.71 98.94,604.69 142.39,711.73 185.83,730.13 229.28,740.27 272.72,739.56 316.17,740.5 359.61,740.5 403.06,740.5 446.5,740.5"/><polyline points="55.5,417.71 98.94,610.71 142.39,727.12 185.83,740.5 229.28,739.8 272.72,740.27 316.17,740.5 359.61,740.5 403.06,740.5 446.5,740.5"/><polyline points="55.5,417.71 98.94,613.72 142.39,730.47 185.83,740.03 229.28,740.5 272.72,739.8 316.17,740.5 359.61,740.5 403.06,740.5 446.5,740.5"/><polyline points="55.5,424.4 98.94,643.16 142.39,732.14 185.83,739.56 229.28,740.03 272.72,740.5 316.17,740.5 359.61,740.5 403.06,740.5 446.5,740.5"/><polyline points="55.5,424.4 98.94,657.54 142.39,734.48 185.83,740.27 229.28,739.56 272.72,740.03 316.17,740.5 359.61,740.5 403.06,740.5 446.5,740.5"/><polyline points="55.5,434.77 98.94,660.55 142.39,736.49 185.83,739.8 229.28,740.27 272.72,739.56 316.17,740.5 359.61,740.5 403.06,740.5 446.5,740.5"/><polyline points="55.5,438.45 98.94,668.25 142.39,737.82 185.83,740.5 229.28,739.8 272.72,740.27 316.17,740.5 359.61,740.5 403.06,740.5 446.5,740.5"/><polyline points="55.5,443.46 98.94,679.29 142.39,738.83 185.83,740.03 229.28,740.5 272.72,739.8 316.17,740.5 359.61,740.5 403.06,740.5 446.5,740.5"/><polyline points="55.5,426.07 98.94,626.77 142.39,723.77 185.83,737.15 229.28,740.03 272.72,740.5 316.17,740.5 359.61,740.5 403.06,740.5 446.5,740.5"/><polyline points="55.5,419.05 98.94,624.76 142.39,721.1 185.83,736.15 229.28,739.56 272.72,740.03 316.17,740.5 359.61,740.5 403.06,740.5 446.5,740.5"/><polyline points="55.5,422.39 98.94,629.45 142.39,723.77 185.83,736.82 229.28,740.27 272.72,739.56 316.17,740.5 359.61,740.5 403.06,740.5 446.5,740.5"/><polyline points="55.5,425.74 98.94,626.77 142.39,722.44 185.83,737.49 229.28,739.8 272.72,740.27 316.17,740.5 359.61,740.5 403.06,740.5 446.5,740.5"/><circle cx="55.5" cy="415.03" r="2.8"/><circle cx="98.94" cy="587.97" r="2.8"/><circle cx="142.39" cy="701.36" r="2.8"/><circle cx="185.83" cy="722.44" r="2.8"/><circle cx="229.28" cy="734.14" r="2.8"/><circle cx="272.72" cy="736.49" r="2.8"/><circle cx="316.17" cy="735.82" r="2.8"/><circle cx="359.61" cy="738.16" r="2.8"/><circle cx="403.06" cy="739.16" r="2.8"/><circle cx="446.5" cy="740.5" r="2.8"/><circle cx="55.5" cy="417.71" r="2.8"/><circle cx="98.94" cy="593.32" r="2.8"/><circle cx="142.39" cy="709.06" r="2.8"/><circle cx="185.83" cy="727.12" r="2.8"/><circle cx="229.28" cy="739.56" r="2.8"/><circle cx="272.72" cy="740.03" r="2.8"/><circle cx="316.17" cy="740.5" r="2.8"/><circle cx="359.61" cy="740.5" r="2.8"/><circle cx="403.06" cy="740.5" r="2.8"/><circle cx="98.94" cy="604.69" r="2.8"/><circle cx="142.39" cy="711.73" r="2.8"/><circle cx="185.83" cy="730.13" r="2.8"/><circle cx="229.28" cy="740.27" r="2.8"/><circle cx="272.72" cy="739.56" r="2.8"/><circle cx="98.94" cy="610.71" r="2.8"/><circle cx="142.39" cy="727.12" r="2.8"/><circle cx="185.83" cy="740.5" r="2.8"/><circle cx="229.28" cy="739.8" r="2.8"/><circle cx="272.72" cy="740.27" r="2.8"/><circle cx="98.94" cy="613.72" r="2.8"/><circle cx="142.39" cy="730.47" r="2.8"/><circle cx="185.83" cy="740.03" r="2.8"/><circle cx="229.28" cy="740.5" r="2.8"/><circle cx="272.72" cy="739.8" r="2.8"/><circle cx="55.5" cy="424.4" r="2.8"/><circle cx="98.94" cy="643.16" r="2.8"/><circle cx="142.39" cy="732.14" r="2.8"/><circle cx="185.83" cy="739.56" r="2.8"/><circle cx="229.28" cy="740.03" r="2.8"/><circle cx="272.72" cy="740.5" r="2.8"/><circle cx="98.94" cy="657.54" r="2.8"/><circle cx="142.39" cy="734.48" r="2.8"/><circle cx="185.83" cy="740.27" r="2.8"/><circle cx="55.5" cy="434.77" r="2.8"/><circle cx="98.94" cy="660.55" r="2.8"/><circle cx="142.39" cy="736.49" r="2.8"/><circle cx="185.83" cy="739.8" r="2.8"/><circle cx="55.5" cy="438.45" r="2.8"/><circle cx="98.94" cy="668.25" r="2.8"/><circle cx="142.39" cy="737.82" r="2.8"/><circle cx="55.5" cy="443.46" r="2.8"/><circle cx="98.94" cy="679.29" r="2.8"/><circle cx="142.39" cy="738.83" r="2.8"/><circle cx="55.5" cy="426.07" r="2.8"/><circle cx="98.94" cy="626.77" r="2.8"/><circle cx="142.39" cy="723.77" r="2.8"/><circle cx="185.83" cy="737.15" r="2.8"/><circle cx="55.5" cy="419.05" r="2.8"/><circle cx="98.94" cy="624.76" r="2.8"/><circle cx="142.39" cy="721.1" r="2.8"/><circle cx="185.83" cy="736.15" r="2.8"/><circle cx="55.5" cy="422.39" r="2.8"/><circle cx="98.94" cy="629.45" r="2.8"/><circle cx="185.83" cy="736.82" r="2.8"/><circle cx="55.5" cy="425.74" r="2.8"/><circle cx="142.39" cy="722.44" r="2.8"/><circle cx="185.83" cy="737.49" r="2.8"/></g>
<polyline points="55.5,427.74 98.94,627.44 142.39,722.44 185.83,736.82 229.28,738.49 272.72,739.16 316.17,739.83 359.61,740.17 403.06,740.17 446.5,740.5" fill="none" stroke="#d90000" stroke-width="5.8" stroke-linejoin="round" stroke-linecap="butt"/>
<text class="l" x="251" y="788.2" text-anchor="middle">Embedding dimension</text>
<text class="l" x="0" y="0" text-anchor="middle" transform="translate(15.9 578) rotate(-90)">False nearest neighbours</text></g>
<g><rect x="493.5" y="415.5" width="391" height="325" fill="none" stroke="#4a4a4a" stroke-width="1.15"/>
<path d="M536.94 740.5V736.6M536.94 415.5V419.4M623.83 740.5V736.6M623.83 415.5V419.4M710.72 740.5V736.6M710.72 415.5V419.4M797.61 740.5V736.6M797.61 415.5V419.4M493.5 673.75H497.4M884.5 673.75H880.6M493.5 607H497.4M884.5 607H880.6M493.5 540.25H497.4M884.5 540.25H880.6M493.5 473.5H497.4M884.5 473.5H880.6" fill="none" stroke="#4a4a4a" stroke-width="1.15"/>
<text class="t" x="536.94" y="763.8" text-anchor="middle">2</text>
<text class="t" x="623.83" y="763.8" text-anchor="middle">4</text>
<text class="t" x="710.72" y="763.8" text-anchor="middle">6</text>
<text class="t" x="797.61" y="763.8" text-anchor="middle">8</text>
<text class="t" x="884.5" y="763.8" text-anchor="middle">10</text>
<text class="t" x="486.9" y="747.7" text-anchor="end">0</text>
<text class="t" x="486.9" y="680.95" text-anchor="end">0.2</text>
<text class="t" x="486.9" y="614.2" text-anchor="end">0.4</text>
<text class="t" x="486.9" y="547.45" text-anchor="end">0.6</text>
<text class="t" x="486.9" y="480.7" text-anchor="end">0.8</text>
<text class="h" x="689" y="410.75" text-anchor="middle">T2DM - O</text>
<g fill="none" stroke="#000" stroke-width="1.0" stroke-linejoin="round"><polyline points="493.5,414.76 536.94,586.64 580.39,702.12 623.83,715.8 667.28,723.14 710.72,734.16 754.17,733.49 797.61,736.16 841.06,738.5 884.5,740.5"/><polyline points="493.5,417.43 536.94,592.65 580.39,704.79 623.83,725.15 667.28,732.82 710.72,735.49 754.17,740.5 797.61,740.5 841.06,740.5 884.5,740.5"/><polyline points="493.5,417.43 536.94,600.33 580.39,712.47 623.83,729.15 667.28,733.83 710.72,739.57 754.17,740.5 797.61,740.5 841.06,740.5 884.5,740.5"/><polyline points="493.5,417.43 536.94,606.33 580.39,730.49 623.83,732.82 667.28,739.8 710.72,740.27 754.17,740.5 797.61,740.5 841.06,740.5 884.5,740.5"/><polyline points="493.5,417.43 536.94,621.35 580.39,732.16 623.83,740.03 667.28,740.5 710.72,739.8 754.17,740.5 797.61,740.5 841.06,740.5 884.5,740.5"/><polyline points="493.5,425.11 536.94,648.38 580.39,733.83 623.83,739.57 667.28,740.03 710.72,740.5 754.17,740.5 797.61,740.5 841.06,740.5 884.5,740.5"/><polyline points="493.5,425.11 536.94,652.39 580.39,735.49 623.83,740.27 667.28,739.57 710.72,740.03 754.17,740.5 797.61,740.5 841.06,740.5 884.5,740.5"/><polyline points="493.5,425.11 536.94,654.39 580.39,737.16 623.83,739.8 667.28,740.27 710.72,739.57 754.17,740.5 797.61,740.5 841.06,740.5 884.5,740.5"/><polyline points="493.5,437.79 536.94,674.75 580.39,738.5 623.83,740.5 667.28,739.8 710.72,740.27 754.17,740.5 797.61,740.5 841.06,740.5 884.5,740.5"/><polyline points="493.5,442.8 536.94,692.77 580.39,739.5 623.83,740.03 667.28,740.5 710.72,739.8 754.17,740.5 797.61,740.5 841.06,740.5 884.5,740.5"/><polyline points="493.5,418.76 536.94,630.7 580.39,721.14 623.83,735.49 667.28,740.03 710.72,740.5 754.17,740.5 797.61,740.5 841.06,740.5 884.5,740.5"/><polyline points="493.5,422.1 536.94,635.37 580.39,723.81 623.83,736.16 667.28,739.57 710.72,740.03 754.17,740.5 797.61,740.5 841.06,740.5 884.5,740.5"/><polyline points="493.5,427.11 536.94,632.7 580.39,722.48 623.83,736.83 667.28,740.27 710.72,739.57 754.17,740.5 797.61,740.5 841.06,740.5 884.5,740.5"/><circle cx="493.5" cy="414.76" r="2.8"/><circle cx="536.94" cy="586.64" r="2.8"/><circle cx="580.39" cy="702.12" r="2.8"/><circle cx="623.83" cy="715.8" r="2.8"/><circle cx="667.28" cy="723.14" r="2.8"/><circle cx="710.72" cy="734.16" r="2.8"/><circle cx="754.17" cy="733.49" r="2.8"/><circle cx="797.61" cy="736.16" r="2.8"/><circle cx="841.06" cy="738.5" r="2.8"/><circle cx="884.5" cy="740.5" r="2.8"/><circle cx="493.5" cy="417.43" r="2.8"/><circle cx="536.94" cy="592.65" r="2.8"/><circle cx="580.39" cy="704.79" r="2.8"/><circle cx="623.83" cy="725.15" r="2.8"/><circle cx="667.28" cy="732.82" r="2.8"/><circle cx="710.72" cy="735.49" r="2.8"/><circle cx="754.17" cy="740.5" r="2.8"/><circle cx="797.61" cy="740.5" r="2.8"/><circle cx="841.06" cy="740.5" r="2.8"/><circle cx="536.94" cy="600.33" r="2.8"/><circle cx="580.39" cy="712.47" r="2.8"/><circle cx="623.83" cy="729.15" r="2.8"/><circle cx="667.28" cy="733.83" r="2.8"/><circle cx="710.72" cy="739.57" r="2.8"/><circle cx="536.94" cy="606.33" r="2.8"/><circle cx="580.39" cy="730.49" r="2.8"/><circle cx="623.83" cy="732.82" r="2.8"/><circle cx="667.28" cy="739.8" r="2.8"/><circle cx="710.72" cy="740.27" r="2.8"/><circle cx="536.94" cy="621.35" r="2.8"/><circle cx="580.39" cy="732.16" r="2.8"/><circle cx="623.83" cy="740.03" r="2.8"/><circle cx="667.28" cy="740.5" r="2.8"/><circle cx="710.72" cy="739.8" r="2.8"/><circle cx="493.5" cy="425.11" r="2.8"/><circle cx="536.94" cy="648.38" r="2.8"/><circle cx="580.39" cy="733.83" r="2.8"/><circle cx="623.83" cy="739.57" r="2.8"/><circle cx="667.28" cy="740.03" r="2.8"/><circle cx="710.72" cy="740.5" r="2.8"/><circle cx="536.94" cy="652.39" r="2.8"/><circle cx="580.39" cy="735.49" r="2.8"/><circle cx="623.83" cy="740.27" r="2.8"/><circle cx="667.28" cy="739.57" r="2.8"/><circle cx="710.72" cy="740.03" r="2.8"/><circle cx="536.94" cy="654.39" r="2.8"/><circle cx="580.39" cy="737.16" r="2.8"/><circle cx="623.83" cy="739.8" r="2.8"/><circle cx="667.28" cy="740.27" r="2.8"/><circle cx="493.5" cy="437.79" r="2.8"/><circle cx="536.94" cy="674.75" r="2.8"/><circle cx="580.39" cy="738.5" r="2.8"/><circle cx="623.83" cy="740.5" r="2.8"/><circle cx="493.5" cy="442.8" r="2.8"/><circle cx="536.94" cy="692.77" r="2.8"/><circle cx="580.39" cy="739.5" r="2.8"/><circle cx="493.5" cy="418.76" r="2.8"/><circle cx="536.94" cy="630.7" r="2.8"/><circle cx="580.39" cy="721.14" r="2.8"/><circle cx="623.83" cy="735.49" r="2.8"/><circle cx="493.5" cy="422.1" r="2.8"/><circle cx="536.94" cy="635.37" r="2.8"/><circle cx="580.39" cy="723.81" r="2.8"/><circle cx="623.83" cy="736.16" r="2.8"/><circle cx="493.5" cy="427.11" r="2.8"/><circle cx="536.94" cy="632.7" r="2.8"/><circle cx="580.39" cy="722.48" r="2.8"/><circle cx="623.83" cy="736.83" r="2.8"/></g>
<polyline points="493.5,429.11 536.94,633.37 580.39,722.48 623.83,736.16 667.28,737.83 710.72,738.83 754.17,739.5 797.61,739.83 841.06,740.17 884.5,740.5" fill="none" stroke="#d90000" stroke-width="5.8" stroke-linejoin="round" stroke-linecap="butt"/>
<text class="l" x="689" y="788.2" text-anchor="middle">Embedding dimension</text></g>
<g><rect x="931.5" y="415.5" width="391" height="325" fill="none" stroke="#4a4a4a" stroke-width="1.15"/>
<path d="M974.94 740.5V736.6M974.94 415.5V419.4M1061.83 740.5V736.6M1061.83 415.5V419.4M1148.72 740.5V736.6M1148.72 415.5V419.4M1235.61 740.5V736.6M1235.61 415.5V419.4M931.5 673.55H935.4M1322.5 673.55H1318.6M931.5 606.6H935.4M1322.5 606.6H1318.6M931.5 539.65H935.4M1322.5 539.65H1318.6M931.5 472.7H935.4M1322.5 472.7H1318.6" fill="none" stroke="#4a4a4a" stroke-width="1.15"/>
<text class="t" x="974.94" y="763.8" text-anchor="middle">2</text>
<text class="t" x="1061.83" y="763.8" text-anchor="middle">4</text>
<text class="t" x="1148.72" y="763.8" text-anchor="middle">6</text>
<text class="t" x="1235.61" y="763.8" text-anchor="middle">8</text>
<text class="t" x="1322.5" y="763.8" text-anchor="middle">10</text>
<text class="t" x="924.9" y="747.7" text-anchor="end">0</text>
<text class="t" x="924.9" y="680.75" text-anchor="end">0.2</text>
<text class="t" x="924.9" y="613.8" text-anchor="end">0.4</text>
<text class="t" x="924.9" y="546.85" text-anchor="end">0.6</text>
<text class="t" x="924.9" y="479.9" text-anchor="end">0.8</text>
<text class="h" x="1127" y="410.75" text-anchor="middle">T2DM - R</text>
<g fill="none" stroke="#000" stroke-width="1.0" stroke-linejoin="round"><polyline points="931.5,414.79 974.94,578.82 1018.39,700.33 1061.83,719.75 1105.28,729.12 1148.72,734.47 1192.17,737.15 1235.61,739.16 1279.06,739.5 1322.5,740.5"/><polyline points="931.5,417.13 974.94,586.51 1018.39,709.37 1061.83,728.78 1105.28,735.48 1148.72,740.03 1192.17,740.5 1235.61,740.5 1279.06,740.5 1322.5,740.5"/><polyline points="931.5,417.13 974.94,591.54 1018.39,711.04 1061.83,730.12 1105.28,740.27 1148.72,739.56 1192.17,740.5 1235.61,740.5 1279.06,740.5 1322.5,740.5"/><polyline points="931.5,417.13 974.94,596.22 1018.39,713.05 1061.83,740.5 1105.28,739.8 1148.72,740.27 1192.17,740.5 1235.61,740.5 1279.06,740.5 1322.5,740.5"/><polyline points="931.5,417.13 974.94,599.9 1018.39,727.11 1061.83,740.03 1105.28,740.5 1148.72,739.8 1192.17,740.5 1235.61,740.5 1279.06,740.5 1322.5,740.5"/><polyline points="931.5,417.13 974.94,611.96 1018.39,730.46 1061.83,739.56 1105.28,740.03 1148.72,740.5 1192.17,740.5 1235.61,740.5 1279.06,740.5 1322.5,740.5"/><polyline points="931.5,421.82 974.94,635.39 1018.39,732.13 1061.83,740.27 1105.28,739.56 1148.72,740.03 1192.17,740.5 1235.61,740.5 1279.06,740.5 1322.5,740.5"/><polyline points="931.5,421.82 974.94,647.44 1018.39,734.47 1061.83,739.8 1105.28,740.27 1148.72,739.56 1192.17,740.5 1235.61,740.5 1279.06,740.5 1322.5,740.5"/><polyline points="931.5,421.82 974.94,653.47 1018.39,736.48 1061.83,740.5 1105.28,739.8 1148.72,740.27 1192.17,740.5 1235.61,740.5 1279.06,740.5 1322.5,740.5"/><polyline points="931.5,429.18 974.94,658.15 1018.39,737.82 1061.83,740.03 1105.28,740.5 1148.72,739.8 1192.17,740.5 1235.61,740.5 1279.06,740.5 1322.5,740.5"/><polyline points="931.5,439.22 974.94,676.9 1018.39,738.83 1061.83,739.56 1105.28,740.03 1148.72,740.5 1192.17,740.5 1235.61,740.5 1279.06,740.5 1322.5,740.5"/><polyline points="931.5,418.81 974.94,625.35 1018.39,721.08 1061.83,733.8 1105.28,739.56 1148.72,740.03 1192.17,740.5 1235.61,740.5 1279.06,740.5 1322.5,740.5"/><polyline points="931.5,422.15 974.94,630.03 1018.39,723.76 1061.83,734.47 1105.28,740.27 1148.72,739.56 1192.17,740.5 1235.61,740.5 1279.06,740.5 1322.5,740.5"/><polyline points="931.5,422.82 974.94,627.35 1018.39,722.42 1061.83,735.14 1105.28,739.8 1148.72,740.27 1192.17,740.5 1235.61,740.5 1279.06,740.5 1322.5,740.5"/><circle cx="931.5" cy="414.79" r="2.8"/><circle cx="974.94" cy="578.82" r="2.8"/><circle cx="1018.39" cy="700.33" r="2.8"/><circle cx="1061.83" cy="719.75" r="2.8"/><circle cx="1105.28" cy="729.12" r="2.8"/><circle cx="1148.72" cy="734.47" r="2.8"/><circle cx="1192.17" cy="737.15" r="2.8"/><circle cx="1235.61" cy="739.16" r="2.8"/><circle cx="1279.06" cy="739.5" r="2.8"/><circle cx="1322.5" cy="740.5" r="2.8"/><circle cx="931.5" cy="417.13" r="2.8"/><circle cx="974.94" cy="586.51" r="2.8"/><circle cx="1018.39" cy="709.37" r="2.8"/><circle cx="1061.83" cy="728.78" r="2.8"/><circle cx="1105.28" cy="735.48" r="2.8"/><circle cx="1148.72" cy="740.03" r="2.8"/><circle cx="1192.17" cy="740.5" r="2.8"/><circle cx="1235.61" cy="740.5" r="2.8"/><circle cx="1279.06" cy="740.5" r="2.8"/><circle cx="974.94" cy="591.54" r="2.8"/><circle cx="1018.39" cy="711.04" r="2.8"/><circle cx="1061.83" cy="730.12" r="2.8"/><circle cx="1105.28" cy="740.27" r="2.8"/><circle cx="1148.72" cy="739.56" r="2.8"/><circle cx="974.94" cy="596.22" r="2.8"/><circle cx="1018.39" cy="713.05" r="2.8"/><circle cx="1061.83" cy="740.5" r="2.8"/><circle cx="1105.28" cy="739.8" r="2.8"/><circle cx="1148.72" cy="740.27" r="2.8"/><circle cx="974.94" cy="599.9" r="2.8"/><circle cx="1018.39" cy="727.11" r="2.8"/><circle cx="1061.83" cy="740.03" r="2.8"/><circle cx="1105.28" cy="740.5" r="2.8"/><circle cx="1148.72" cy="739.8" r="2.8"/><circle cx="974.94" cy="611.96" r="2.8"/><circle cx="1018.39" cy="730.46" r="2.8"/><circle cx="1061.83" cy="739.56" r="2.8"/><circle cx="1105.28" cy="740.03" r="2.8"/><circle cx="1148.72" cy="740.5" r="2.8"/><circle cx="931.5" cy="421.82" r="2.8"/><circle cx="974.94" cy="635.39" r="2.8"/><circle cx="1018.39" cy="732.13" r="2.8"/><circle cx="1061.83" cy="740.27" r="2.8"/><circle cx="1105.28" cy="739.56" r="2.8"/><circle cx="974.94" cy="647.44" r="2.8"/><circle cx="1018.39" cy="734.47" r="2.8"/><circle cx="1061.83" cy="739.8" r="2.8"/><circle cx="974.94" cy="653.47" r="2.8"/><circle cx="1018.39" cy="736.48" r="2.8"/><circle cx="931.5" cy="429.18" r="2.8"/><circle cx="974.94" cy="658.15" r="2.8"/><circle cx="1018.39" cy="737.82" r="2.8"/><circle cx="931.5" cy="439.22" r="2.8"/><circle cx="974.94" cy="676.9" r="2.8"/><circle cx="1018.39" cy="738.83" r="2.8"/><circle cx="931.5" cy="418.81" r="2.8"/><circle cx="974.94" cy="625.35" r="2.8"/><circle cx="1018.39" cy="721.08" r="2.8"/><circle cx="1061.83" cy="733.8" r="2.8"/><circle cx="931.5" cy="422.15" r="2.8"/><circle cx="974.94" cy="630.03" r="2.8"/><circle cx="1018.39" cy="723.76" r="2.8"/><circle cx="1061.83" cy="734.47" r="2.8"/><circle cx="931.5" cy="422.82" r="2.8"/><circle cx="974.94" cy="627.35" r="2.8"/><circle cx="1018.39" cy="722.42" r="2.8"/><circle cx="1061.83" cy="735.14" r="2.8"/></g>
<polyline points="931.5,424.83 974.94,628.02 1018.39,722.42 1061.83,736.15 1105.28,738.83 1148.72,738.83 1192.17,739.5 1235.61,739.83 1279.06,740.17 1322.5,740.5" fill="none" stroke="#d90000" stroke-width="5.8" stroke-linejoin="round" stroke-linecap="butt"/>
<text class="l" x="1127" y="788.2" text-anchor="middle">Embedding dimension</text></g>
<g><rect x="1369.6" y="415.5" width="391" height="325" fill="none" stroke="#4a4a4a" stroke-width="1.15"/>
<path d="M1413.04 740.5V736.6M1413.04 415.5V419.4M1499.93 740.5V736.6M1499.93 415.5V419.4M1586.82 740.5V736.6M1586.82 415.5V419.4M1673.71 740.5V736.6M1673.71 415.5V419.4M1369.6 674.12H1373.5M1760.6 674.12H1756.7M1369.6 607.74H1373.5M1760.6 607.74H1756.7M1369.6 541.36H1373.5M1760.6 541.36H1756.7M1369.6 474.98H1373.5M1760.6 474.98H1756.7" fill="none" stroke="#4a4a4a" stroke-width="1.15"/>
<text class="t" x="1413.04" y="763.8" text-anchor="middle">2</text>
<text class="t" x="1499.93" y="763.8" text-anchor="middle">4</text>
<text class="t" x="1586.82" y="763.8" text-anchor="middle">6</text>
<text class="t" x="1673.71" y="763.8" text-anchor="middle">8</text>
<text class="t" x="1760.6" y="763.8" text-anchor="middle">10</text>
<text class="t" x="1363" y="747.7" text-anchor="end">0</text>
<text class="t" x="1363" y="681.32" text-anchor="end">0.2</text>
<text class="t" x="1363" y="614.94" text-anchor="end">0.4</text>
<text class="t" x="1363" y="548.56" text-anchor="end">0.6</text>
<text class="t" x="1363" y="482.18" text-anchor="end">0.8</text>
<text class="h" x="1565.1" y="410.75" text-anchor="middle">T2DM - V</text>
<g fill="none" stroke="#000" stroke-width="1.0" stroke-linejoin="round"><polyline points="1369.6,415.57 1413.04,590.48 1456.49,698.02 1499.93,722.91 1543.38,730.54 1586.82,733.2 1630.27,738.84 1673.71,738.84 1717.16,739.84 1760.6,740.5"/><polyline points="1369.6,418.56 1413.04,594.8 1456.49,706.31 1499.93,725.23 1543.38,733.2 1586.82,735.19 1630.27,740.5 1673.71,740.5 1717.16,740.5 1760.6,740.5"/><polyline points="1369.6,418.56 1413.04,598.78 1456.49,711.29 1499.93,728.88 1543.38,740.27 1586.82,739.57 1630.27,740.5 1673.71,740.5 1717.16,740.5 1760.6,740.5"/><polyline points="1369.6,418.56 1413.04,603.09 1456.49,713.28 1499.93,740.5 1543.38,739.8 1586.82,740.27 1630.27,740.5 1673.71,740.5 1717.16,740.5 1760.6,740.5"/><polyline points="1369.6,418.56 1413.04,609.07 1456.49,730.54 1499.93,740.04 1543.38,740.5 1586.82,739.8 1630.27,740.5 1673.71,740.5 1717.16,740.5 1760.6,740.5"/><polyline points="1369.6,418.56 1413.04,619.69 1456.49,732.2 1499.93,739.57 1543.38,740.04 1586.82,740.5 1630.27,740.5 1673.71,740.5 1717.16,740.5 1760.6,740.5"/><polyline points="1369.6,425.2 1413.04,639.27 1456.49,733.86 1499.93,740.27 1543.38,739.57 1586.82,740.04 1630.27,740.5 1673.71,740.5 1717.16,740.5 1760.6,740.5"/><polyline points="1369.6,425.2 1413.04,643.92 1456.49,735.52 1499.93,739.8 1543.38,740.27 1586.82,739.57 1630.27,740.5 1673.71,740.5 1717.16,740.5 1760.6,740.5"/><polyline points="1369.6,425.2 1413.04,655.2 1456.49,737.18 1499.93,740.5 1543.38,739.8 1586.82,740.27 1630.27,740.5 1673.71,740.5 1717.16,740.5 1760.6,740.5"/><polyline points="1369.6,438.8 1413.04,668.81 1456.49,738.51 1499.93,740.04 1543.38,740.5 1586.82,739.8 1630.27,740.5 1673.71,740.5 1717.16,740.5 1760.6,740.5"/><polyline points="1369.6,426.85 1413.04,681.75 1456.49,739.5 1499.93,739.57 1543.38,740.04 1586.82,740.5 1630.27,740.5 1673.71,740.5 1717.16,740.5 1760.6,740.5"/><polyline points="1369.6,419.55 1413.04,627.65 1456.49,721.58 1499.93,734.86 1543.38,739.57 1586.82,740.04 1630.27,740.5 1673.71,740.5 1717.16,740.5 1760.6,740.5"/><polyline points="1369.6,422.87 1413.04,632.3 1456.49,724.24 1499.93,735.52 1543.38,740.27 1586.82,739.57 1630.27,740.5 1673.71,740.5 1717.16,740.5 1760.6,740.5"/><polyline points="1369.6,426.85 1413.04,629.65 1456.49,722.91 1499.93,736.19 1543.38,739.8 1586.82,740.27 1630.27,740.5 1673.71,740.5 1717.16,740.5 1760.6,740.5"/><circle cx="1369.6" cy="415.57" r="2.8"/><circle cx="1413.04" cy="590.48" r="2.8"/><circle cx="1456.49" cy="698.02" r="2.8"/><circle cx="1499.93" cy="722.91" r="2.8"/><circle cx="1543.38" cy="730.54" r="2.8"/><circle cx="1586.82" cy="733.2" r="2.8"/><circle cx="1630.27" cy="738.84" r="2.8"/><circle cx="1673.71" cy="738.84" r="2.8"/><circle cx="1717.16" cy="739.84" r="2.8"/><circle cx="1760.6" cy="740.5" r="2.8"/><circle cx="1369.6" cy="418.56" r="2.8"/><circle cx="1413.04" cy="594.8" r="2.8"/><circle cx="1456.49" cy="706.31" r="2.8"/><circle cx="1499.93" cy="725.23" r="2.8"/><circle cx="1543.38" cy="733.2" r="2.8"/><circle cx="1586.82" cy="735.19" r="2.8"/><circle cx="1630.27" cy="740.5" r="2.8"/><circle cx="1673.71" cy="740.5" r="2.8"/><circle cx="1717.16" cy="740.5" r="2.8"/><circle cx="1413.04" cy="598.78" r="2.8"/><circle cx="1456.49" cy="711.29" r="2.8"/><circle cx="1499.93" cy="728.88" r="2.8"/><circle cx="1543.38" cy="740.27" r="2.8"/><circle cx="1586.82" cy="739.57" r="2.8"/><circle cx="1413.04" cy="603.09" r="2.8"/><circle cx="1456.49" cy="713.28" r="2.8"/><circle cx="1499.93" cy="740.5" r="2.8"/><circle cx="1543.38" cy="739.8" r="2.8"/><circle cx="1586.82" cy="740.27" r="2.8"/><circle cx="1413.04" cy="609.07" r="2.8"/><circle cx="1456.49" cy="730.54" r="2.8"/><circle cx="1499.93" cy="740.04" r="2.8"/><circle cx="1543.38" cy="740.5" r="2.8"/><circle cx="1586.82" cy="739.8" r="2.8"/><circle cx="1413.04" cy="619.69" r="2.8"/><circle cx="1456.49" cy="732.2" r="2.8"/><circle cx="1499.93" cy="739.57" r="2.8"/><circle cx="1543.38" cy="740.04" r="2.8"/><circle cx="1586.82" cy="740.5" r="2.8"/><circle cx="1369.6" cy="425.2" r="2.8"/><circle cx="1413.04" cy="639.27" r="2.8"/><circle cx="1456.49" cy="733.86" r="2.8"/><circle cx="1499.93" cy="740.27" r="2.8"/><circle cx="1543.38" cy="739.57" r="2.8"/><circle cx="1586.82" cy="740.04" r="2.8"/><circle cx="1413.04" cy="643.92" r="2.8"/><circle cx="1456.49" cy="735.52" r="2.8"/><circle cx="1499.93" cy="739.8" r="2.8"/><circle cx="1413.04" cy="655.2" r="2.8"/><circle cx="1456.49" cy="737.18" r="2.8"/><circle cx="1369.6" cy="438.8" r="2.8"/><circle cx="1413.04" cy="668.81" r="2.8"/><circle cx="1456.49" cy="738.51" r="2.8"/><circle cx="1369.6" cy="426.85" r="2.8"/><circle cx="1413.04" cy="681.75" r="2.8"/><circle cx="1456.49" cy="739.5" r="2.8"/><circle cx="1369.6" cy="419.55" r="2.8"/><circle cx="1413.04" cy="627.65" r="2.8"/><circle cx="1456.49" cy="721.58" r="2.8"/><circle cx="1499.93" cy="734.86" r="2.8"/><circle cx="1369.6" cy="422.87" r="2.8"/><circle cx="1413.04" cy="632.3" r="2.8"/><circle cx="1456.49" cy="724.24" r="2.8"/><circle cx="1499.93" cy="735.52" r="2.8"/><circle cx="1413.04" cy="629.65" r="2.8"/><circle cx="1456.49" cy="722.91" r="2.8"/><circle cx="1499.93" cy="736.19" r="2.8"/></g>
<polyline points="1369.6,428.85 1413.04,630.31 1456.49,722.91 1499.93,735.52 1543.38,737.84 1586.82,738.84 1630.27,739.5 1673.71,739.84 1717.16,740.17 1760.6,740.5" fill="none" stroke="#d90000" stroke-width="5.8" stroke-linejoin="round" stroke-linecap="butt"/>
<text class="l" x="1565.1" y="788.2" text-anchor="middle">Embedding dimension</text></g>
</svg>
</body></html>
